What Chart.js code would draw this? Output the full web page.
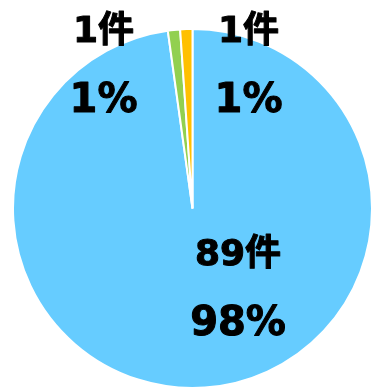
<!DOCTYPE html>
<html>
<head>
<meta charset="utf-8">
<script src="https://cdn.jsdelivr.net/npm/chart.js@4"></script>
<style>
  html, body { margin: 0; padding: 0; background: #fff; }
  #wrap { width: 373px; height: 389px; }
</style>
</head>
<body>
<div id="wrap"><canvas id="pieChart"></canvas></div>
<script>
// answer counts per category
const categories = ["A", "B", "C"];
const counts = [89, 1, 1];
const sliceColors = ["#66CCFF", "#92D050", "#FFC000"];

// where each label block sits, measured from the pie centre
const labelOffsets = [
  { dx: 45.5, countY: 56.5, pctY: 126.5 },
  { dx: -89, countY: -166.5, pctY: -96.5 },
  { dx: 56, countY: -166.5, pctY: -96.5 },
];

const total = counts.reduce((a, b) => a + b, 0);

function heavyText(ctx, text, x, y) {
  ctx.strokeText(text, x, y);
  ctx.fillText(text, x, y);
}

const sliceLabels = {
  id: "sliceLabels",
  afterDatasetsDraw(chart) {
    const ctx = chart.ctx;
    const arcs = chart.getDatasetMeta(0).data;
    ctx.save();
    ctx.fillStyle = "#000";
    ctx.strokeStyle = "#000";
    ctx.lineWidth = 1;
    ctx.lineJoin = "round";
    ctx.textAlign = "center";
    ctx.textBaseline = "alphabetic";
    arcs.forEach((arc, i) => {
      const off = labelOffsets[i];
      const x = arc.x + off.dx;
      const pct = Math.round((counts[i] / total) * 100);
      ctx.font = 'bold 36px "DejaVu Sans", "Noto Sans CJK JP"';
      heavyText(ctx, counts[i] + "件", x, arc.y + off.countY);
      ctx.font = 'bold 40px "DejaVu Sans", "Noto Sans CJK JP"';
      heavyText(ctx, pct + "%", x, arc.y + off.pctY);
    });
    ctx.restore();
  },
};

new Chart(document.getElementById("pieChart"), {
  type: "pie",
  data: {
    labels: categories,
    datasets: [
      {
        data: counts,
        backgroundColor: sliceColors,
        borderColor: "#fff",
        borderWidth: 2,
      },
    ],
  },
  options: {
    responsive: true,
    maintainAspectRatio: false,
    animation: false,
    layout: { padding: { left: 12, top: 28, right: 0, bottom: 0 } },
    plugins: {
      legend: { display: false },
      tooltip: { enabled: false },
    },
  },
  plugins: [sliceLabels],
});
</script>
</body>
</html>
